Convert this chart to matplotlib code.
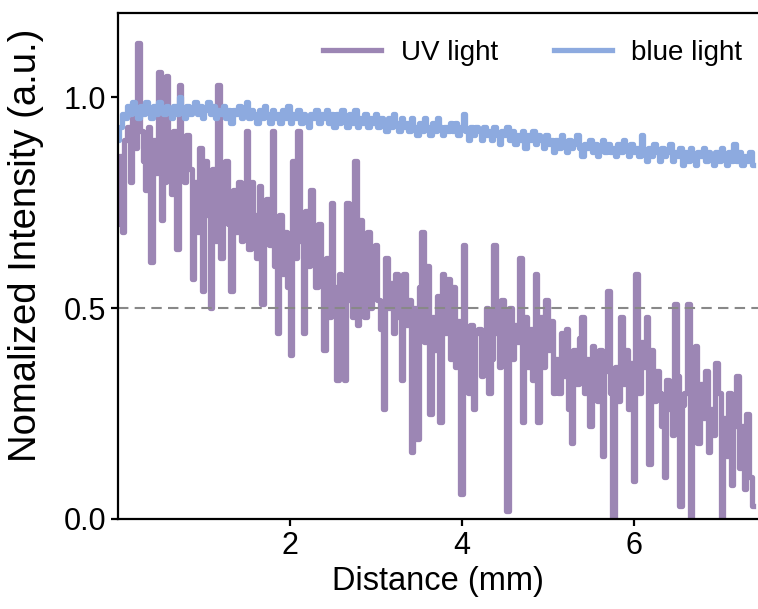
import numpy as np
import matplotlib
matplotlib.use("Agg")
import matplotlib.pyplot as plt

plt.rcParams["font.family"] = ["Liberation Sans", "DejaVu Sans"]

# sampling step along the channel (mm)
step = 0.03

# ===== DATA =====
uv_light = [
    0.70, 0.86, 0.68, 0.90, 0.93, 0.80, 0.95, 0.88, 1.13, 0.92,
    0.85, 0.78, 0.93, 0.61, 0.90, 0.82, 1.06, 0.71, 0.80, 1.05,
    0.90, 0.77, 0.92, 0.64, 1.03, 0.84, 0.80, 0.91, 0.83, 0.57,
    0.80, 0.68, 0.88, 0.54, 0.85, 0.72, 0.50, 0.83, 0.66, 1.03,
    0.62, 0.76, 0.85, 0.70, 0.54, 0.78, 0.68, 0.80, 0.66, 0.74,
    0.92, 0.64, 0.80, 0.72, 0.62, 0.79, 0.51, 0.70, 0.76, 0.65,
    0.92, 0.60, 0.44, 0.72, 0.58, 0.68, 0.55, 0.39, 0.85, 0.62,
    0.92, 0.66, 0.44, 0.73, 0.60, 0.78, 0.64, 0.55, 0.70, 0.58,
    0.40, 0.62, 0.48, 0.75, 0.55, 0.33, 0.58, 0.46, 0.33, 0.75,
    0.52, 0.48, 0.85, 0.46, 0.71, 0.55, 0.48, 0.68, 0.50, 0.60,
    0.65, 0.52, 0.45, 0.26, 0.62, 0.50, 0.56, 0.44, 0.58, 0.48,
    0.33, 0.58, 0.46, 0.52, 0.16, 0.50, 0.19, 0.55, 0.68, 0.42,
    0.60, 0.25, 0.48, 0.40, 0.53, 0.23, 0.58, 0.44, 0.57, 0.38,
    0.55, 0.36, 0.47, 0.06, 0.65, 0.42, 0.30, 0.46, 0.26, 0.44,
    0.45, 0.34, 0.40, 0.50, 0.30, 0.38, 0.65, 0.44, 0.36, 0.52,
    0.40, 0.02, 0.50, 0.38, 0.46, 0.42, 0.62, 0.23, 0.48, 0.36,
    0.45, 0.33, 0.58, 0.23, 0.48, 0.36, 0.52, 0.40, 0.47, 0.30,
    0.38, 0.30, 0.44, 0.34, 0.45, 0.26, 0.18, 0.40, 0.32, 0.43,
    0.48, 0.30, 0.38, 0.22, 0.41, 0.34, 0.28, 0.40, 0.15, 0.35,
    0.54, 0.30, 0.00, 0.36, 0.28, 0.48, 0.32, 0.40, 0.26, 0.37,
    0.09, 0.58, 0.30, 0.42, 0.36, 0.48, 0.13, 0.40, 0.28, 0.35,
    0.30, 0.22, 0.10, 0.33, 0.26, 0.20, 0.51, 0.34, 0.03, 0.27,
    0.30, 0.51, 0.00, 0.28, 0.41, 0.18, 0.32, 0.24, 0.35, 0.16,
    0.26, 0.20, 0.37, 0.30, 0.00, 0.24, 0.15, 0.30, 0.08, 0.22,
    0.34, 0.12, 0.22, 0.07, 0.25, 0.10, 0.03,
]

blue_light = [
    0.90, 0.93, 0.96, 0.95, 0.98, 0.96, 0.99, 0.97, 0.95, 0.98,
    0.96, 0.99, 0.97, 0.95, 0.98, 0.96, 0.99, 0.97, 0.96, 0.98,
    0.97, 0.95, 0.98, 0.96, 1.00, 0.97, 0.95, 0.98, 0.96, 0.97,
    0.99, 0.96, 0.98, 0.95, 0.97, 0.99, 0.96, 0.98, 0.95, 0.97,
    0.96, 0.98, 0.95, 0.97, 0.94, 0.97, 0.96, 0.98, 0.95, 0.97,
    0.99, 0.95, 0.97, 0.96, 0.94, 0.97, 0.95, 0.98, 0.96, 0.94,
    0.97, 0.95, 0.96, 0.94, 0.97, 0.95, 0.98, 0.94, 0.96, 0.95,
    0.97, 0.94, 0.96, 0.95, 0.93, 0.96, 0.95, 0.97, 0.94, 0.96,
    0.95, 0.97, 0.94, 0.96, 0.93, 0.96, 0.94, 0.97, 0.95, 0.93,
    0.96, 0.94, 0.97, 0.93, 0.95, 0.94, 0.96, 0.93, 0.95, 0.94,
    0.96, 0.93, 0.95, 0.94, 0.92, 0.95, 0.93, 0.96, 0.94, 0.92,
    0.95, 0.93, 0.94, 0.92, 0.95, 0.93, 0.91, 0.94, 0.92, 0.95,
    0.93, 0.91, 0.94, 0.92, 0.95, 0.93, 0.91, 0.93, 0.92, 0.94,
    0.92, 0.94, 0.91, 0.93, 0.96, 0.92, 0.90, 0.93, 0.91, 0.93,
    0.92, 0.90, 0.93, 0.91, 0.92, 0.90, 0.93, 0.91, 0.89, 0.92,
    0.91, 0.93, 0.90, 0.92, 0.89, 0.91, 0.90, 0.92, 0.88, 0.91,
    0.90, 0.92, 0.89, 0.91, 0.90, 0.88, 0.91, 0.89, 0.90, 0.87,
    0.90, 0.88, 0.91, 0.89, 0.87, 0.90, 0.88, 0.89, 0.91, 0.88,
    0.86, 0.89, 0.88, 0.90, 0.87, 0.89, 0.86, 0.88, 0.90, 0.87,
    0.89, 0.87, 0.88, 0.86, 0.89, 0.87, 0.90, 0.88, 0.86, 0.89,
    0.87, 0.88, 0.86, 0.91, 0.87, 0.85, 0.88, 0.86, 0.89, 0.87,
    0.85, 0.88, 0.86, 0.87, 0.89, 0.85, 0.87, 0.86, 0.88, 0.84,
    0.87, 0.85, 0.88, 0.86, 0.84, 0.87, 0.86, 0.88, 0.85, 0.87,
    0.86, 0.84, 0.87, 0.85, 0.88, 0.86, 0.84, 0.87, 0.85, 0.89,
    0.85, 0.87, 0.84, 0.86, 0.85, 0.87, 0.84,
]

x_ticks = [2, 4, 6]
y_ticks = [0.0, 0.5, 1.0]
y_ticklabels = ["0.0", "0.5", "1.0"]

distance = np.arange(len(uv_light)) * step

# ===== PLOT =====
fig = plt.figure(figsize=(7.58, 6.09), dpi=100)
ax = fig.add_axes([118 / 758, 90 / 609, 640 / 758, 506 / 609])

ax.plot(distance, uv_light, color="#9c86b4", lw=3.8,
        drawstyle="steps-mid", label="UV light")
ax.plot(distance, blue_light, color="#8daadf", lw=3.8,
        drawstyle="steps-mid", label="blue light")
ax.axhline(0.5, color="#888888", lw=1.5, ls=(0, (5, 3)))

ax.set_xlim(0, 7.44)
ax.set_ylim(0, 1.2)
ax.set_xticks(x_ticks)
ax.set_yticks(y_ticks)
ax.set_yticklabels(y_ticklabels)

ax.spines["right"].set_visible(False)
for side in ["left", "bottom", "top"]:
    ax.spines[side].set_linewidth(1.6)

ax.tick_params(labelsize=22, width=1.6, length=5)
ax.set_xlabel("Distance (mm)", fontsize=23.5, labelpad=4)
ax.set_ylabel("Nomalized Intensity (a.u.)", fontsize=27.5)
ax.yaxis.set_label_coords(-0.116, 0.54)

ax.legend(loc="upper right", bbox_to_anchor=(1.006, 0.985), ncol=2,
          frameon=False, fontsize=20, handlelength=2.1, handletextpad=0.7,
          columnspacing=2.0, borderaxespad=0.3)

fig.savefig("out.png", dpi=100)
